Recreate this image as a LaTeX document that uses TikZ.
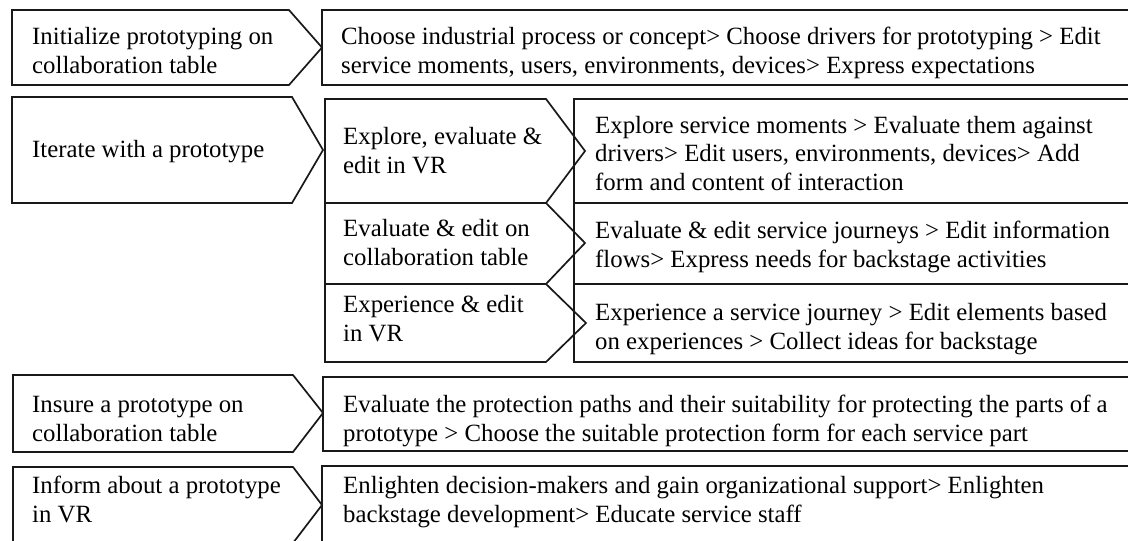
\documentclass[tikz,border=0pt]{standalone}
\usepackage{fontspec}
\setmainfont{Liberation Serif}
\begin{document}
\begin{tikzpicture}[x=1pt,y=-1pt,
  shp/.style={draw=black!90,line width=1.7pt,line join=miter},
  lbl/.style={anchor=base west,align=left,inner sep=0pt,font=\fontsize{24.8}{28.5}\selectfont}]
\useasboundingbox (0,0) rectangle (1128,541);
\clip (0,0) rectangle (1128,541);
\fill[white] (0,0) rectangle (1128,541);
% row 1
\draw[shp] (12,10) -- (289,10) -- (322,47.5) -- (289,85) -- (12,85) -- cycle;
\draw[shp] (322,10) rectangle (1140,85);
% row 2
\draw[shp] (12,97) -- (292,97) -- (323,150) -- (292,203) -- (12,203) -- cycle;
\draw[shp] (574,99) rectangle (1140,203);
\draw[shp] (574,203) rectangle (1140,284);
\draw[shp] (574,284) rectangle (1140,362);
\draw[shp] (325,99) -- (546,99) -- (585,151) -- (546,203) -- (325,203) -- cycle;
\draw[shp] (325,203) -- (546,203) -- (585,243) -- (546,284) -- (325,284) -- cycle;
\draw[shp] (325,284) -- (546,284) -- (586,323) -- (546,362) -- (325,362) -- cycle;
% row 3
\draw[shp] (13,375) -- (293,375) -- (323,413) -- (293,452) -- (13,452) -- cycle;
\draw[shp] (323,377) rectangle (1140,451);
% row 4
\draw[shp] (13,467) -- (293,467) -- (322,505) -- (293,543) -- (13,543) -- cycle;
\draw[shp] (322,466) rectangle (1140,545);
% texts (anchor = baseline of last line)
\node[lbl] (t1l) at (32,73) {Initialize prototyping on\\collaboration table};
\node[lbl] (t1r) at (341,73) {Choose industrial process or concept> Choose drivers for prototyping > Edit\\service moments, users, environments, devices> Express expectations};
\node[lbl] (t2l) at (32,157) {Iterate with a prototype};
\node[lbl] (t2a) at (343,173) {Explore, evaluate \&\\edit in VR};
\node[lbl] (t2b) at (343,265) {Evaluate \& edit on\\collaboration table};
\node[lbl] (t2c) at (343,341) {Experience \& edit\\in VR};
\node[lbl] (t2ar) at (595,190) {Explore service moments > Evaluate them against\\drivers> Edit users, environments, devices> Add\\form and content of interaction};
\node[lbl] (t2br) at (595,267) {Evaluate \& edit service journeys > Edit information\\flows> Express needs for backstage activities};
\node[lbl] (t2cr) at (595,349) {Experience a service journey > Edit elements based\\on experiences > Collect ideas for backstage};
\node[lbl] (t3l) at (32,441) {Insure a prototype on\\collaboration table};
\node[lbl] (t3r) at (343,441) {Evaluate the protection paths and their suitability for protecting the parts of a\\prototype > Choose the suitable protection form for each service part};
\node[lbl] (t4l) at (32,522) {Inform about a prototype\\in VR};
\node[lbl] (t4r) at (343,522) {Enlighten decision-makers and gain organizational support> Enlighten\\backstage development> Educate service staff};
\end{tikzpicture}
\end{document}
